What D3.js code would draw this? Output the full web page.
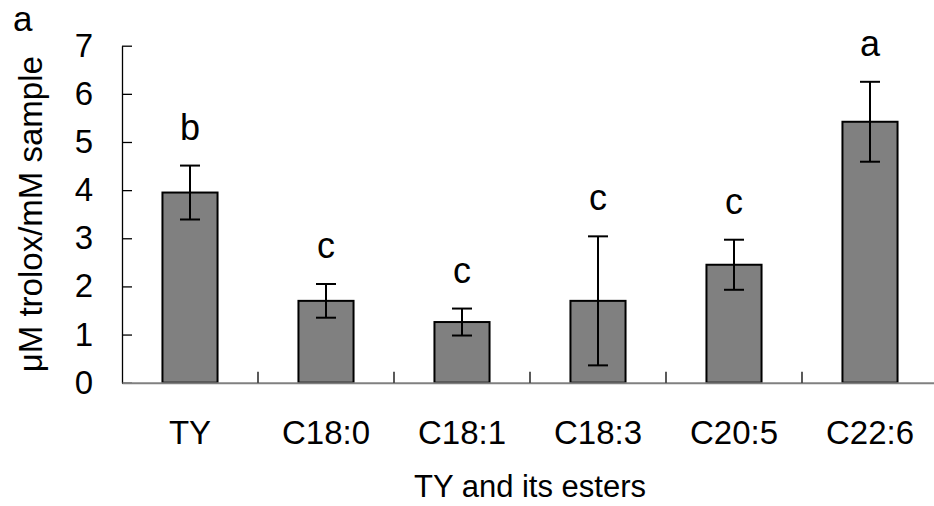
<!DOCTYPE html>
<html>
<head>
<meta charset="utf-8">
<script src="https://cdn.jsdelivr.net/npm/d3@7"></script>
<style>
  body { margin: 0; background: #fff; }
  text { font-family: "Liberation Sans", Arial, sans-serif; fill: #000; }
</style>
</head>
<body>
<svg id="chart" width="934" height="506"></svg>
<script>
// data
const categories = ["TY", "C18:0", "C18:1", "C18:3", "C20:5", "C22:6"];
const means = [3.95, 1.70, 1.26, 1.70, 2.45, 5.42];
const errors = [0.56, 0.35, 0.28, 1.34, 0.52, 0.83];
const groupLetters = ["b", "c", "c", "c", "c", "a"];
const yTicks = [0, 1, 2, 3, 4, 5, 6, 7];

const svg = d3.select("#chart");

const plotLeft = 122, plotRight = 938, plotTop = 45.7, plotBottom = 382.7;

const x = d3.scaleBand().domain(categories).range([plotLeft, plotRight]).padding(0);
const y = d3.scaleLinear().domain([0, 7]).range([plotBottom, plotTop]);
const barW = x.bandwidth() * 0.405;
const cx = d => x(d) + x.bandwidth() / 2;

// y axis, ticks pointing inward
const yAxis = svg.append("g")
    .attr("transform", `translate(${plotLeft},0)`)
    .call(d3.axisLeft(y).tickValues(yTicks).tickFormat(d3.format("d"))
        .tickSizeInner(-10).tickSizeOuter(0).tickPadding(29));
yAxis.select(".domain").attr("stroke", "#000").attr("stroke-width", 1.3);
yAxis.selectAll(".tick line").attr("stroke", "#000").attr("stroke-width", 1.3);
yAxis.selectAll("text").attr("font-size", 33).attr("font-family", "Liberation Sans, Arial, sans-serif");

// bars
svg.selectAll(".bar")
    .data(categories)
    .enter().append("rect")
    .attr("class", "bar")
    .attr("x", d => cx(d) - barW / 2)
    .attr("y", (d, i) => y(means[i]))
    .attr("width", barW)
    .attr("height", (d, i) => y(0) - y(means[i]))
    .attr("fill", "#808080")
    .attr("stroke", "#000")
    .attr("stroke-width", 2);

// x axis: gray baseline, labels under each category
const xAxis = svg.append("g")
    .attr("transform", `translate(0,${plotBottom})`)
    .call(d3.axisBottom(x).tickSize(0).tickPadding(38));
xAxis.select(".domain").attr("stroke", "#808080").attr("stroke-width", 2);
xAxis.selectAll("text").attr("font-size", 33).attr("font-family", "Liberation Sans, Arial, sans-serif");

// tick marks between categories
svg.selectAll(".xtick")
    .data(categories.slice(1))
    .enter().append("line")
    .attr("class", "xtick")
    .attr("x1", d => x(d)).attr("x2", d => x(d))
    .attr("y1", plotBottom).attr("y2", plotBottom - 11)
    .attr("stroke", "#000").attr("stroke-width", 1.3);

// error bars
const err = svg.selectAll(".err")
    .data(categories)
    .enter().append("g")
    .attr("class", "err")
    .attr("stroke", "#000")
    .attr("stroke-width", 2);
err.append("line")
    .attr("x1", d => cx(d)).attr("x2", d => cx(d))
    .attr("y1", (d, i) => y(means[i] + errors[i]))
    .attr("y2", (d, i) => y(means[i] - errors[i]));
err.append("line")
    .attr("x1", d => cx(d) - 10).attr("x2", d => cx(d) + 10)
    .attr("y1", (d, i) => y(means[i] + errors[i]))
    .attr("y2", (d, i) => y(means[i] + errors[i]));
err.append("line")
    .attr("x1", d => cx(d) - 10).attr("x2", d => cx(d) + 10)
    .attr("y1", (d, i) => y(means[i] - errors[i]))
    .attr("y2", (d, i) => y(means[i] - errors[i]));

// significance letters
svg.selectAll(".letter")
    .data(categories)
    .enter().append("text")
    .attr("class", "letter")
    .attr("x", d => cx(d))
    .attr("y", (d, i) => y(means[i] + errors[i]) - 26)
    .attr("text-anchor", "middle")
    .attr("font-size", 36)
    .text((d, i) => groupLetters[i]);

// axis titles
svg.append("text")
    .attr("x", (plotLeft + plotRight) / 2)
    .attr("y", 497)
    .attr("text-anchor", "middle")
    .attr("font-size", 31)
    .text("TY and its esters");

svg.append("text")
    .attr("transform", `translate(42,${(plotTop + plotBottom) / 2}) rotate(-90)`)
    .attr("text-anchor", "middle")
    .attr("font-size", 33)
    .text("μM trolox/mM sample");

// panel label
svg.append("text")
    .attr("x", 13)
    .attr("y", 31)
    .attr("font-size", 35)
    .text("a");
</script>
</body>
</html>
